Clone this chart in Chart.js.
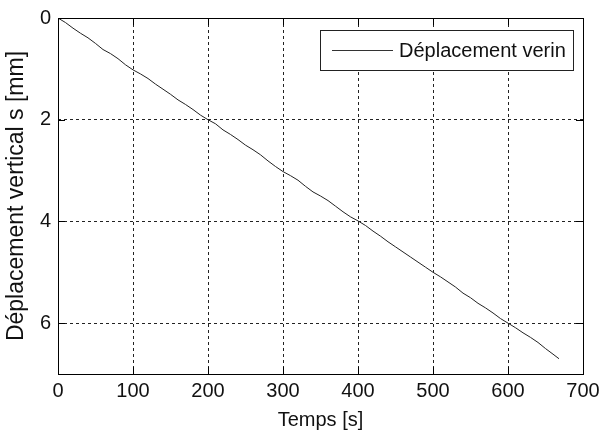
<!DOCTYPE html>
<html>
<head>
<meta charset="utf-8">
<script src="https://cdn.jsdelivr.net/npm/chart.js@4.4.1/dist/chart.umd.min.js"></script>
<style>
  html, body { margin: 0; padding: 0; background: #fff; }
  #wrap { width: 601px; height: 435px; }
</style>
</head>
<body>
<div id="wrap"><canvas id="chart" width="601" height="435"></canvas></div>
<script>
// time [s]
const temps = [0, 10, 20, 30, 40, 50, 60, 70, 80, 90,
  100, 110, 120, 130, 140, 150, 160, 170, 180, 190,
  200, 210, 220, 230, 240, 250, 260, 270, 280, 290,
  300, 310, 320, 330, 340, 350, 360, 370, 380, 390,
  400, 410, 420, 430, 440, 450, 460, 470, 480, 490,
  500, 510, 520, 530, 540, 550, 560, 570, 580, 590,
  600, 610, 620, 630, 640, 650, 660, 668];
// vertical displacement [mm]
const deplacement = [0, 0.09, 0.20, 0.30, 0.39, 0.50, 0.62, 0.70, 0.80, 0.92,
  1.02, 1.10, 1.19, 1.30, 1.40, 1.50, 1.61, 1.70, 1.80, 1.91,
  2.00, 2.08, 2.20, 2.29, 2.39, 2.50, 2.59, 2.69, 2.81, 2.92,
  3.02, 3.10, 3.19, 3.31, 3.42, 3.50, 3.59, 3.70, 3.81, 3.91,
  3.99, 4.08, 4.19, 4.29, 4.40, 4.50, 4.60, 4.70, 4.80, 4.90,
  5.00, 5.09, 5.19, 5.29, 5.41, 5.50, 5.61, 5.70, 5.80, 5.91,
  6.00, 6.09, 6.19, 6.28, 6.38, 6.50, 6.61, 6.70];

const xTicks = [0, 100, 200, 300, 400, 500, 600, 700];
const yTicks = [0, 2, 4, 6];
const serieLabel = 'Déplacement verin';

const FONT = "'Liberation Sans', Arial, sans-serif";

// box around the axes + inward ticks + legend box (matlab look)
const matlabFrame = {
    id: 'matlabFrame',
    afterDraw(chart) {
        const ctx = chart.ctx;
        const a = chart.chartArea;
        const xs = chart.scales.x, ys = chart.scales.y;
        ctx.save();
        ctx.strokeStyle = '#000';
        ctx.lineWidth = 1;
        ctx.setLineDash([]);
        ctx.beginPath();
        xTicks.forEach(v => {
            const px = Math.round(xs.getPixelForValue(v)) + 0.5;
            ctx.moveTo(px, a.bottom); ctx.lineTo(px, a.bottom - 7);
            ctx.moveTo(px, a.top); ctx.lineTo(px, a.top + 7);
        });
        yTicks.forEach(v => {
            const py = Math.round(ys.getPixelForValue(v)) + 0.5;
            ctx.moveTo(a.left, py); ctx.lineTo(a.left + 7, py);
            ctx.moveTo(a.right, py); ctx.lineTo(a.right - 7, py);
        });
        ctx.stroke();
        ctx.strokeRect(Math.round(a.left) + 0.5, Math.round(a.top) + 0.5,
            Math.round(a.right - a.left), Math.round(a.bottom - a.top));

        // legend
        const lx = 320.5, ly = 30.5, lw = 253, lh = 40;
        ctx.fillStyle = '#fff';
        ctx.fillRect(lx, ly, lw, lh);
        ctx.strokeStyle = '#222';
        ctx.strokeRect(lx, ly, lw, lh);
        ctx.strokeStyle = '#333';
        ctx.beginPath();
        ctx.moveTo(332, 50.5); ctx.lineTo(393, 50.5);
        ctx.stroke();
        ctx.fillStyle = '#111';
        ctx.font = '20px ' + FONT;
        ctx.textBaseline = 'middle';
        ctx.textAlign = 'left';
        ctx.fillText(chart.data.datasets[0].label, 399, 51);
        ctx.restore();
    }
};

new Chart(document.getElementById('chart'), {
    type: 'line',
    data: {
        datasets: [{
            label: serieLabel,
            data: temps.map((t, i) => ({ x: t, y: deplacement[i] })),
            borderColor: '#222',
            borderWidth: 1,
            pointRadius: 0,
            tension: 0,
            fill: false
        }]
    },
    options: {
        responsive: false,
        animation: false,
        layout: { padding: { left: 0, top: 18, right: 18, bottom: 0 } },
        plugins: {
            legend: { display: false },
            tooltip: { enabled: false }
        },
        scales: {
            x: {
                type: 'linear',
                min: 0,
                max: 700,
                afterBuildTicks: axis => { axis.ticks = xTicks.map(v => ({ value: v })); },
                afterFit: axis => { axis.height = 61; axis.paddingLeft = 0; axis.paddingRight = 0; },
                grid: { color: '#222', lineWidth: 1, drawTicks: false },
                border: { display: false, dash: [3, 3] },
                ticks: { color: '#111', padding: 5, font: { family: FONT, size: 20 } },
                title: {
                    display: true,
                    text: 'Temps [s]',
                    color: '#111',
                    font: { family: FONT, size: 20 },
                    padding: { top: 0, bottom: 3 }
                }
            },
            y: {
                type: 'linear',
                reverse: true,
                min: 0,
                max: 7,
                afterBuildTicks: axis => { axis.ticks = yTicks.map(v => ({ value: v })); },
                afterFit: axis => { axis.width = 58; axis.paddingTop = 0; axis.paddingBottom = 0; },
                grid: { color: '#222', lineWidth: 1, drawTicks: false },
                border: { display: false, dash: [3, 3] },
                ticks: { color: '#111', padding: 7, font: { family: FONT, size: 20 } },
                title: {
                    display: true,
                    text: 'Déplacement vertical s [mm]',
                    color: '#111',
                    font: { family: FONT, size: 23 },
                    padding: { top: 3, bottom: 0 }
                }
            }
        }
    },
    plugins: [matlabFrame]
});
</script>
</body>
</html>
